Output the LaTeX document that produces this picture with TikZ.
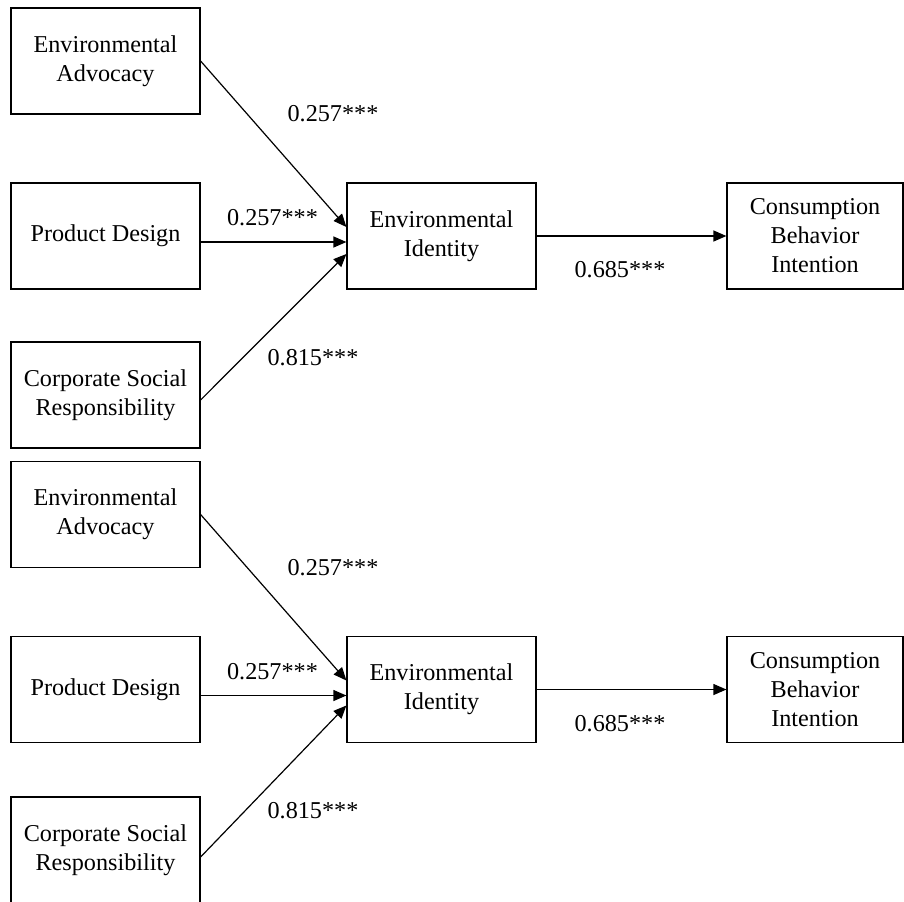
\documentclass[tikz,border=0pt]{standalone}
\usepackage{fontspec}
\setmainfont{Liberation Serif}
\usetikzlibrary{arrows.meta}

\tikzset{
  construct/.style={draw, line width=0.6pt, minimum width=94.5pt, minimum height=53pt,
    align=center, inner sep=2pt, font=\fontsize{12.1}{14.5}\selectfont},
  coef/.style={inner sep=0pt, font=\fontsize{12.1}{14.5}\selectfont},
  link/.style={->, line width=0.6pt}
}

\begin{document}
\begin{tikzpicture}[x=0.5pt,y=-0.5pt,>={Triangle[length=6.5pt,width=5.5pt]}]
\useasboundingbox (0,0) rectangle (904,901);
\clip (0,0) rectangle (904,901);
% upper model
\node[construct] (EA1) at (105.5,61) {Environmental\\Advocacy};
\node[construct] (PD1) at (105.5,236) {Product Design};
\node[construct] (CSR1) at (105.5,395) {Corporate Social\\Responsibility};
\node[construct] (EI1) at (441.5,236) {Environmental\\Identity};
\node[construct, minimum width=88pt] (CBI1) at (815,236) {Consumption\\Behavior\\Intention};
\draw[link] (EA1.east) -- ([yshift=4.5pt]EI1.west);
\draw[link] ([yshift=-3pt]PD1.east) -- ([yshift=-3pt]EI1.west);
\draw[link] ([yshift=-2.5pt]CSR1.east) -- ([yshift=-9pt]EI1.west);
\draw[link] (EI1.east) -- (CBI1.west);
\node[coef] (ea1) at (333,114) {0.257***};
\node[coef] (pd1) at (272.5,218) {0.257***};
\node[coef] (csr1) at (313,357.5) {0.815***};
\node[coef] (ei1) at (620,270) {0.685***};
% lower model
\node[construct] (EA2) at (105.5,514.5) {Environmental\\Advocacy};
\node[construct] (PD2) at (105.5,689.5) {Product Design};
\node[construct] (CSR2) at (105.5,850) {Corporate Social\\Responsibility};
\node[construct] (EI2) at (441.5,689.5) {Environmental\\Identity};
\node[construct, minimum width=88pt] (CBI2) at (815,689.5) {Consumption\\Behavior\\Intention};
\draw[link] (EA2.east) -- ([yshift=4.5pt]EI2.west);
\draw[link] ([yshift=-3pt]PD2.east) -- ([yshift=-3pt]EI2.west);
\draw[link] ([yshift=-3.5pt]CSR2.east) -- ([yshift=-8pt]EI2.west);
\draw[link] (EI2.east) -- (CBI2.west);
\node[coef] (ea2) at (333,567.5) {0.257***};
\node[coef] (pd2) at (272.5,671.5) {0.257***};
\node[coef] (csr2) at (313,810.5) {0.815***};
\node[coef] (ei2) at (620,723.5) {0.685***};
\end{tikzpicture}
\end{document}
